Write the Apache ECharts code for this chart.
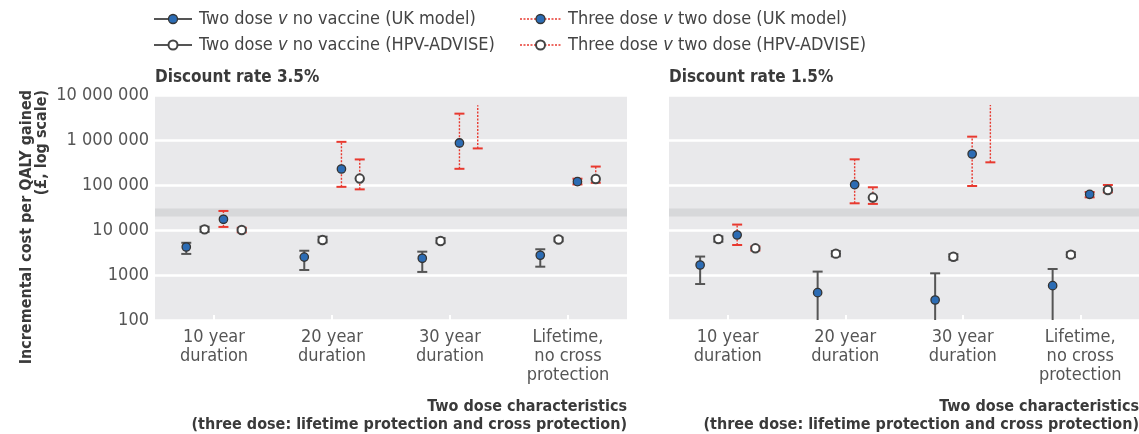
<!DOCTYPE html>
<html>
<head>
<meta charset="utf-8">
<script src="https://cdn.jsdelivr.net/npm/echarts@6/dist/echarts.min.js"></script>
<style>
  html, body { margin: 0; padding: 0; background: #fff; }
  #chart { width: 1139px; height: 434px; }
</style>
</head>
<body>
<div id="chart"></div>
<script>
// categories shared by both panels
const categories = ['10 year\nduration', '20 year\nduration', '30 year\nduration', 'Lifetime,\nno cross\nprotection'];

// each entry: [estimate, lower, upper]  (null estimate = dominated, open upper end)
// discount rate 3.5%
const twoUK35 = [[4190, 2940, 5200], [2500, 1290, 3460], [2350, 1170, 3300], [2750, 1530, 3730]];
const twoHPV35 = [[10350, 9100, 11800], [6000, 5300, 7100], [5700, 5100, 6600], [6150, 5600, 6800]];
const threeUK35 = [[17300, 11700, 26500], [227000, 91000, 910000], [860000, 229000, 3850000], [118600, 103000, 138000]];
const threeHPV35 = [[10000, 8900, 11200], [139000, 80000, 370000], [null, 650000, 5900000], [136000, 112000, 257000]];

// discount rate 1.5%
const twoUK15 = [[1670, 630, 2570], [405, 10, 1190], [278, 10, 1090], [580, 10, 1360]];
const twoHPV15 = [[6300, 5500, 7200], [2980, 2600, 3400], [2550, 2200, 2900], [2830, 2500, 3200]];
const threeUK15 = [[7740, 4640, 13200], [101600, 39200, 372000], [489000, 95000, 1186000], [62100, 53200, 69800]];
const threeHPV15 = [[3920, 3500, 4300], [52600, 38000, 89000], [null, 319000, 6000000], [77400, 68700, 100000]];

// willingness-to-pay band
const thresholdBand = [20000, 30000];

const legendNames = [
    'Two dose {i|v} no vaccine (UK model)',
    'Two dose {i|v} no vaccine (HPV-ADVISE)',
    'Three dose {i|v} two dose (UK model)',
    'Three dose {i|v} two dose (HPV-ADVISE)'
];

const FONT = '"Liberation Sans Narrow", "DejaVu Sans Condensed", "Open Sans", sans-serif';
const GREY = '#555';
const RED = '#e8392f';
const BLUE = '#2c6cb4';

// how each series looks: offset within the category band, filled or open, dotted red or solid grey
const seriesStyle = [
    { offset: -0.235, filled: true, red: false },
    { offset: -0.08, filled: false, red: false },
    { offset: 0.08, filled: true, red: true },
    { offset: 0.235, filled: false, red: true }
];

function errorSeries(data, styleIdx, gridIdx) {
    const st = seriesStyle[styleIdx];
    return {
        type: 'custom',
        xAxisIndex: gridIdx,
        yAxisIndex: gridIdx,
        clip: true,
        z: 5,
        data: data.map((d, i) => [i, d[0] == null ? d[1] : d[0], d[1], d[2]]),
        renderItem: (params, api) => {
            const row = data[params.dataIndex];
            const i = api.value(0);
            const band = api.size([1, 0])[0];
            const dx = st.offset * band;
            const pLo = api.coord([i, row[1]]);
            const pHi = api.coord([i, row[2]]);
            const x = pLo[0] + dx;
            const col = st.red ? RED : GREY;
            const capW = 5;
            const children = [];
            children.push({
                type: 'line',
                shape: { x1: x, y1: pLo[1], x2: x, y2: pHi[1] },
                style: st.red
                    ? { stroke: col, lineWidth: 1.4, lineDash: [2, 1.5] }
                    : { stroke: col, lineWidth: 2 }
            });
            children.push({
                type: 'line',
                shape: { x1: x - capW, y1: pLo[1], x2: x + capW, y2: pLo[1] },
                style: { stroke: col, lineWidth: 2 }
            });
            if (row[0] != null) {
                children.push({
                    type: 'line',
                    shape: { x1: x - capW, y1: pHi[1], x2: x + capW, y2: pHi[1] },
                    style: { stroke: col, lineWidth: 2 }
                });
                const pE = api.coord([i, row[0]]);
                children.push({
                    type: 'circle',
                    shape: { cx: x, cy: pE[1], r: 4.2 },
                    style: st.filled
                        ? { fill: BLUE, stroke: '#333', lineWidth: 1.3 }
                        : { fill: '#fff', stroke: '#444', lineWidth: 2 }
                });
            }
            return { type: 'group', children: children };
        }
    };
}

function bandSeries(gridIdx) {
    return {
        type: 'line',
        xAxisIndex: gridIdx,
        yAxisIndex: gridIdx,
        data: [],
        silent: true,
        z: 1,
        markArea: {
            silent: true,
            itemStyle: { color: '#d7d8da' },
            data: [[{ yAxis: thresholdBand[0] }, { yAxis: thresholdBand[1] }]]
        }
    };
}

const fmtY = v => {
    const n = Math.round(v);
    return n >= 10000 ? String(n).replace(/\B(?=(\d{3})+(?!\d))/g, ' ') : String(n);
};

function xAxisDef(gridIdx) {
    return {
        type: 'category',
        gridIndex: gridIdx,
        data: categories,
        boundaryGap: true,
        axisLine: { show: false },
        axisTick: { show: true, inside: true, alignWithLabel: true, length: 5, lineStyle: { color: '#fff', width: 2 } },
        axisLabel: { color: GREY, fontFamily: FONT, fontSize: 18, lineHeight: 19, margin: 8 },
        splitLine: { show: false },
        z: 10
    };
}

function yAxisDef(gridIdx, showLabels) {
    return {
        type: 'log',
        logBase: 10,
        gridIndex: gridIdx,
        min: 100,
        max: 10000000,
        axisLine: { show: false },
        axisTick: { show: false },
        axisLabel: { show: showLabels, color: GREY, fontFamily: FONT, fontSize: 18, margin: 6, formatter: fmtY },
        splitLine: { show: true, lineStyle: { color: '#fff', width: 2.5 } },
        minorSplitLine: { show: false }
    };
}

// legend drawn as graphics
function legendItem(x, y, idx, w) {
    const st = seriesStyle[idx];
    const col = st.red ? RED : GREY;
    return [
        {
            type: 'line', shape: { x1: x, y1: y, x2: x + w, y2: y },
            style: st.red ? { stroke: col, lineWidth: 1.4, lineDash: [2, 1.5] } : { stroke: col, lineWidth: 2 }
        },
        {
            type: 'circle', shape: { cx: x + w / 2, cy: y, r: 4.5 },
            style: st.filled ? { fill: BLUE, stroke: '#333', lineWidth: 1.3 } : { fill: '#fff', stroke: '#444', lineWidth: 2 }
        },
        {
            type: 'text', x: x + w + 7, y: y,
            style: {
                text: legendNames[idx], fill: '#444', font: '18px ' + FONT, verticalAlign: 'middle',
                rich: { i: { fontStyle: 'italic', fontSize: 18, fontFamily: FONT, fill: '#444' } }
            }
        }
    ];
}

const boldText = (x, y, text, align, size) => ({
    type: 'text', x: x, y: y,
    style: { text: text, fill: '#3a3a3a', font: 'bold ' + size + 'px ' + FONT, align: align, verticalAlign: 'middle' }
});

const chart = echarts.init(document.getElementById('chart'), null, { renderer: 'canvas' });

chart.setOption({
    animation: false,
    backgroundColor: '#fff',
    grid: [
        { left: 155, right: 512, top: 95, bottom: 114, show: true, backgroundColor: '#e9e9eb', borderWidth: 0 },
        { left: 669, right: 0, top: 95, bottom: 114, show: true, backgroundColor: '#e9e9eb', borderWidth: 0 }
    ],
    xAxis: [xAxisDef(0), xAxisDef(1)],
    yAxis: [yAxisDef(0, true), yAxisDef(1, false)],
    series: [
        bandSeries(0),
        bandSeries(1),
        errorSeries(twoUK35, 0, 0),
        errorSeries(twoHPV35, 1, 0),
        errorSeries(threeUK35, 2, 0),
        errorSeries(threeHPV35, 3, 0),
        errorSeries(twoUK15, 0, 1),
        errorSeries(twoHPV15, 1, 1),
        errorSeries(threeUK15, 2, 1),
        errorSeries(threeHPV15, 3, 1)
    ],
    graphic: [
        ...legendItem(154, 19, 0, 38),
        ...legendItem(154, 45, 1, 38),
        ...legendItem(520, 19, 2, 41),
        ...legendItem(520, 45, 3, 41),
        boldText(155, 78, 'Discount rate 3.5%', 'left', 17),
        boldText(669, 78, 'Discount rate 1.5%', 'left', 17),
        boldText(627, 407, 'Two dose characteristics', 'right', 16),
        boldText(627, 425, '(three dose: lifetime protection and cross protection)', 'right', 16),
        boldText(1139, 407, 'Two dose characteristics', 'right', 16),
        boldText(1139, 425, '(three dose: lifetime protection and cross protection)', 'right', 16),
        {
            type: 'text', x: 19, y: 90, rotation: Math.PI / 2,
            style: {
                text: 'Incremental cost per QALY gained\n(£, log scale)',
                fill: '#3a3a3a', font: 'bold 16px ' + FONT, align: 'right', verticalAlign: 'top', lineHeight: 15
            }
        }
    ]
});
</script>
</body>
</html>
